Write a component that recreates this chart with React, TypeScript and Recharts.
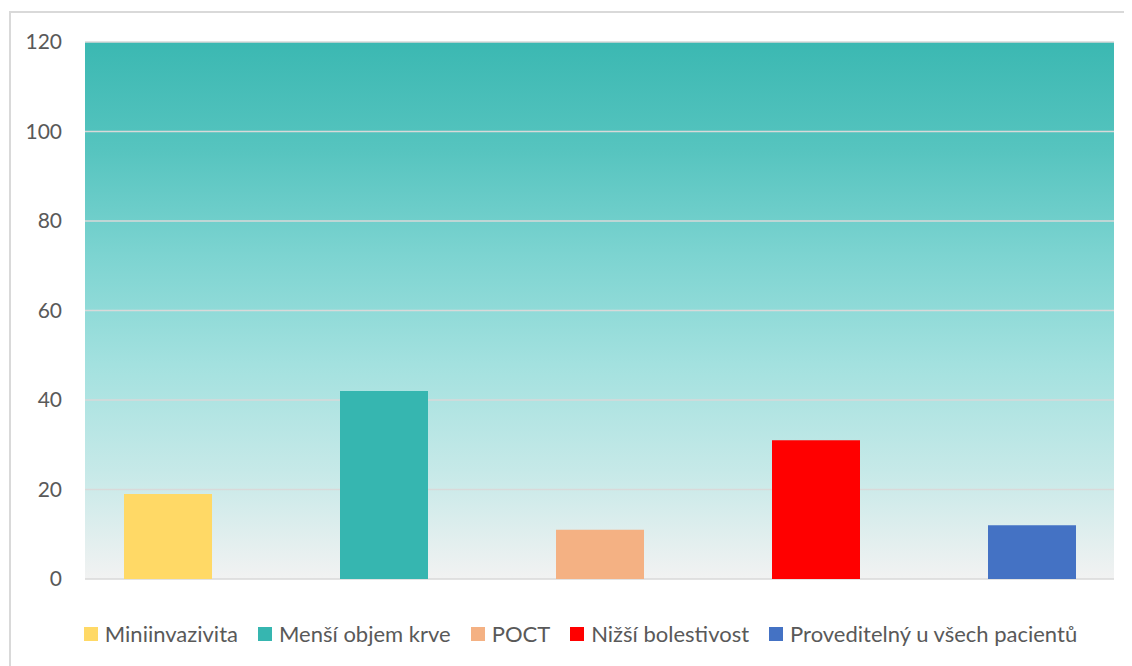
import React from "react";
import { BarChart, Bar, XAxis, YAxis, CartesianGrid, Legend } from "recharts";

// Výhody metody – počet odpovědí
const seriesNames = [
  "Miniinvazivita",
  "Menší objem krve",
  "POCT",
  "Nižší bolestivost",
  "Proveditelný u všech pacientů",
];
const seriesValues = [19, 42, 11, 31, 12];
const seriesColors = ["#FFD966", "#36B6B0", "#F4B183", "#FF0000", "#4472C4"];
const yTicks = [0, 20, 40, 60, 80, 100, 120];

const chartRow: Record<string, number | string> = { name: "" };
seriesNames.forEach((n, i) => {
  chartRow[n] = seriesValues[i];
});
const chartData = [chartRow];

const FONT = "Lato, 'Noto Sans', sans-serif";

function renderLegend(props: any) {
  const payload = [...(props.payload || [])].sort(
    (a: any, b: any) => seriesNames.indexOf(a.value) - seriesNames.indexOf(b.value)
  );
  return (
    <div
      style={{
        boxSizing: "border-box",
        height: 89,
        paddingTop: 41,
        paddingLeft: 36,
        display: "flex",
        justifyContent: "center",
        alignItems: "flex-start",
        fontFamily: FONT,
        fontSize: 22,
        color: "#595959",
      }}
    >
      {payload.map((entry: any, idx: number) => (
        <div
          key={idx}
          style={{
            display: "flex",
            alignItems: "center",
            marginRight: idx < payload.length - 1 ? 20 : 0,
          }}
        >
          <span
            style={{
              width: 14,
              height: 14,
              background: entry.color,
              display: "inline-block",
              marginRight: 7,
            }}
          />
          <span>{entry.value}</span>
        </div>
      ))}
    </div>
  );
}

export default function App() {
  return (
    <div
      style={{
        marginLeft: 1,
        marginTop: 3,
        width: 1140,
        height: 660,
        border: "2px solid #d9d9d9",
        background: "#fff",
      }}
    >
      <BarChart
        width={1140}
        height={655}
        data={chartData}
        margin={{ top: 29, right: 37, left: 0, bottom: 0 }}
        barGap={128}
      >
        <defs>
          <linearGradient id="plotBg" x1="0" y1="0" x2="0" y2="1">
            <stop offset="0%" stopColor="#3BB8B2" />
            <stop offset="20%" stopColor="#56C4BF" />
            <stop offset="40%" stopColor="#7DD4D1" />
            <stop offset="60%" stopColor="#A3E1DF" />
            <stop offset="80%" stopColor="#C6E9E8" />
            <stop offset="100%" stopColor="#F2F2F2" />
          </linearGradient>
        </defs>
        <CartesianGrid
          vertical={false}
          stroke="#d9d9d9"
          strokeWidth={1.5}
          fill="url(#plotBg)"
          fillOpacity={1}
        />
        <XAxis dataKey="name" hide />
        <YAxis
          width={74}
          domain={[0, 120]}
          ticks={yTicks}
          axisLine={false}
          tickLine={false}
          tickSize={0}
          tickMargin={23}
          tick={{ fontSize: 21, fill: "#595959", fontFamily: FONT }}
        />
        <Legend verticalAlign="bottom" height={89} content={renderLegend} />
        {seriesNames.map((n, i) => (
          <Bar
            key={n}
            dataKey={n}
            fill={seriesColors[i]}
            barSize={88}
            isAnimationActive={false}
          />
        ))}
      </BarChart>
    </div>
  );
}
